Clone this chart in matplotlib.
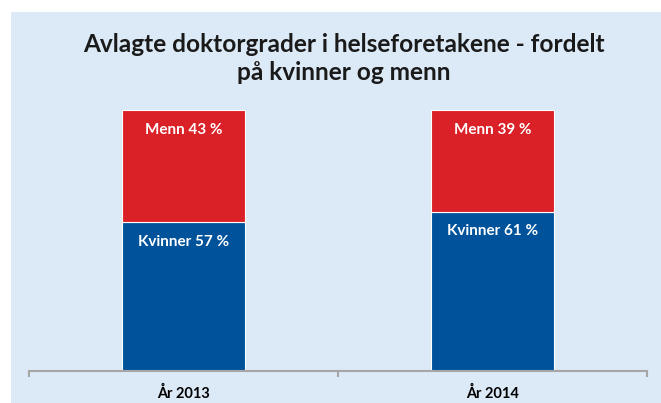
import matplotlib.pyplot as plt
from matplotlib.patches import Rectangle

plt.rcParams['font.family'] = ['Lato', 'DejaVu Sans']

years = ["År 2013", "År 2014"]
kvinner = [57, 61]
menn = [43, 39]

BLUE = "#00529B"
RED = "#DA2128"
BG = "#DCE9F6"

fig = plt.figure(figsize=(6.61, 4.03), dpi=100)
fig.patch.set_facecolor("white")
fig.patches.append(Rectangle((11 / 661, 0), 1 - 11 / 661, (403 - 12) / 403,
                             transform=fig.transFigure, facecolor=BG,
                             edgecolor="none", zorder=-5))

ax = fig.add_axes([29 / 661, (403 - 371) / 403, 618 / 661, 261 / 403])
ax.set_facecolor("none")
ax.set_zorder(1)

x = range(len(years))
ax.bar(x, kvinner, width=0.4, color=BLUE, edgecolor="white", linewidth=0.8)
ax.bar(x, menn, width=0.4, bottom=kvinner, color=RED, edgecolor="white", linewidth=0.8)

for i in x:
    ax.annotate(f"Kvinner {kvinner[i]} %", (i, kvinner[i]), xytext=(0, -9),
                textcoords="offset points", ha="center", va="top",
                color="white", fontsize=11, fontweight="bold")
    ax.annotate(f"Menn {menn[i]} %", (i, kvinner[i] + menn[i]), xytext=(0, -9),
                textcoords="offset points", ha="center", va="top",
                color="white", fontsize=11, fontweight="bold")

ax.set_xlim(-0.5, 1.5)
ax.set_ylim(0, 100)
ax.set_yticks([])
for s in ["top", "right", "left"]:
    ax.spines[s].set_visible(False)
ax.spines["bottom"].set_color("#A6A6A6")
ax.spines["bottom"].set_linewidth(1.5)

ax.set_xticks(list(x))
ax.set_xticklabels(years, fontsize=10.5, fontweight="bold")
ax.tick_params(axis="x", which="major", length=0, pad=11)
ax.set_xticks([-0.5, 0.5, 1.5], minor=True)
ax.tick_params(axis="x", which="minor", length=4, width=1.5, color="#A6A6A6")

fig.text(344 / 661, 1 - 44 / 403, "Avlagte doktorgrader i helseforetakene - fordelt",
         ha="center", va="center", fontsize=17.6, fontweight="bold", color="#1A1A1A")
fig.text(344 / 661, 1 - 73 / 403, "på kvinner og menn",
         ha="center", va="center", fontsize=17.6, fontweight="bold", color="#1A1A1A")

fig.savefig("out.png", dpi=100)
